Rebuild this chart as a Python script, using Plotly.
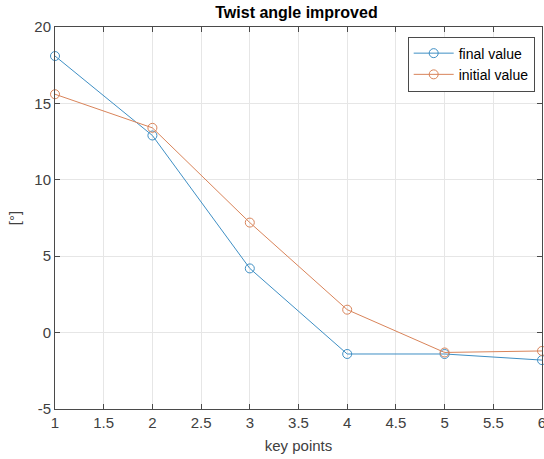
import plotly.graph_objects as go

key_points = [1, 2, 3, 4, 5, 6]
final_value = [18.1, 12.9, 4.2, -1.4, -1.4, -1.8]
initial_value = [15.6, 13.4, 7.2, 1.5, -1.3, -1.2]

x_ticks = [1, 1.5, 2, 2.5, 3, 3.5, 4, 4.5, 5, 5.5, 6]
y_ticks = [-5, 0, 5, 10, 15, 20]

blue = "#3f8fc4"
orange = "#d9845a"
axis_color = "#4a4a4a"
label_color = "#404040"
font_family = "Liberation Sans, Arial, sans-serif"

fig = go.Figure()
fig.add_trace(go.Scatter(
    x=key_points, y=final_value, name="final value",
    mode="lines+markers",
    line=dict(color=blue, width=1),
    marker=dict(symbol="circle-open", size=9, color=blue, line=dict(width=1)),
    cliponaxis=False,
))
fig.add_trace(go.Scatter(
    x=key_points, y=initial_value, name="initial value",
    mode="lines+markers",
    line=dict(color=orange, width=1),
    marker=dict(symbol="circle-open", size=9, color=orange, line=dict(width=1)),
    cliponaxis=False,
))

axis_common = dict(
    showline=True, linecolor=axis_color, linewidth=1, mirror="ticks",
    ticks="inside", ticklen=5, tickcolor=axis_color,
    showgrid=True, gridcolor="#e6e6e6", gridwidth=1,
    zeroline=False, automargin=False,
    ticklabeloverflow="allow",
    tickfont=dict(family=font_family, size=15, color=label_color),
)

fig.update_xaxes(
    range=[1, 6], tickvals=x_ticks, ticktext=[f"{v:g}" for v in x_ticks],
    title=dict(text="key points", font=dict(family=font_family, size=15, color=label_color), standoff=10),
    **axis_common,
)
fig.update_yaxes(
    range=[-5, 20], tickvals=y_ticks, ticktext=[str(v) for v in y_ticks],
    title=dict(text="[°]", font=dict(family=font_family, size=15, color=label_color), standoff=10),
    **axis_common,
)

fig.update_layout(
    width=544, height=459,
    margin=dict(l=55, r=2, t=27, b=50),
    paper_bgcolor="white", plot_bgcolor="white",
    title=dict(text="<b>Twist angle improved</b>", x=0.545, xanchor="center",
               y=0.985, yanchor="top",
               font=dict(family=font_family, size=16, color="black")),
    showlegend=True,
    legend=dict(
        x=0.985, y=0.975, xanchor="right", yanchor="top",
        bgcolor="white", bordercolor=axis_color, borderwidth=1,
        font=dict(family=font_family, size=14, color="black"),
        itemwidth=40, tracegroupgap=0,
    ),
)

fig.write_html("out.html")
